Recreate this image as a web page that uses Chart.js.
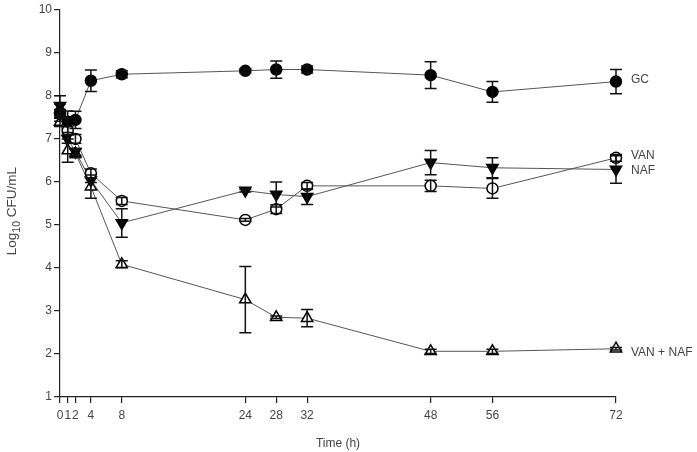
<!DOCTYPE html>
<html>
<head>
<meta charset="utf-8">
<script src="https://cdn.jsdelivr.net/npm/chart.js@4/dist/chart.umd.min.js"></script>
<style>
  html, body { margin: 0; padding: 0; background: #fff; }
  #wrap { width: 697px; height: 452px; }
</style>
</head>
<body>
<div id="wrap"><canvas id="killCurve"></canvas></div>
<script>
  // sampling times (h)
  var times = [0, 1, 2, 4, 8, 24, 28, 32, 48, 56, 72];
  var xTicks = [0, 1, 2, 4, 8, 24, 28, 32, 48, 56, 72];
  var yTicks = [1, 2, 3, 4, 5, 6, 7, 8, 9, 10];

  // log10 CFU/mL, mean and error
  var gc = [7.60, 7.39, 7.43, 8.34, 8.49, 8.57, 8.60, 8.60, 8.47, 8.08, 8.32];
  var gcErr = [0.20, 0.25, 0.20, 0.25, 0.08, 0.05, 0.20, 0.08, 0.31, 0.24, 0.28];
  var van = [7.57, 7.18, 6.99, 6.19, 5.55, 5.11, 5.36, 5.90, 5.90, 5.84, 6.55];
  var vanErr = [0.10, 0.10, 0.10, 0.10, 0.08, 0.03, 0.10, 0.08, 0.13, 0.23, 0.08];
  var naf = [7.76, 6.99, 6.69, 6.03, 5.04, 5.79, 5.70, 5.65, 6.44, 6.32, 6.28];
  var nafErr = [0.23, 0.10, 0.08, 0.05, 0.33, 0.03, 0.29, 0.18, 0.28, 0.23, 0.32];
  var combo = [7.38, 6.72, 6.65, 5.88, 4.08, 3.26, 2.85, 2.83, 2.06, 2.06, 2.12];
  var comboErr = [0.10, 0.27, 0.10, 0.27, 0.08, 0.77, 0.03, 0.20, 0.05, 0.05, 0.03];

  var seriesNames = ['GC', 'VAN', 'NAF', 'VAN + NAF'];

  var textColor = '#444';
  var fontFamily = '"Liberation Sans", Arial, sans-serif';

  function toPoints(vals) {
    return times.map(function (t, i) { return { x: t, y: vals[i] }; });
  }

  function makeSet(name, vals, errs, style, fill, rot, rad, labelDy) {
    return {
      label: name,
      data: toPoints(vals),
      errors: errs,
      labelDy: labelDy,
      borderColor: '#555',
      borderWidth: 1,
      pointStyle: style,
      pointRotation: rot,
      pointRadius: rad,
      pointBackgroundColor: fill,
      pointBorderColor: '#000',
      pointBorderWidth: 1.5,
      tension: 0,
      clip: false
    };
  }

  // error bars, drawn over the markers like the original
  var errorBars = {
    id: 'errorBars',
    afterDatasetsDraw: function (chart) {
      var ctx = chart.ctx;
      var xs = chart.scales.x, ys = chart.scales.y;
      ctx.save();
      ctx.strokeStyle = '#111';
      ctx.lineWidth = 1.5;
      chart.data.datasets.forEach(function (ds) {
        ds.data.forEach(function (p, i) {
          var e = ds.errors[i];
          var px = xs.getPixelForValue(p.x);
          var top = ys.getPixelForValue(p.y + e);
          var bot = ys.getPixelForValue(p.y - e);
          ctx.beginPath();
          ctx.moveTo(px, top); ctx.lineTo(px, bot);
          ctx.moveTo(px - 6, top); ctx.lineTo(px + 6, top);
          ctx.moveTo(px - 6, bot); ctx.lineTo(px + 6, bot);
          ctx.stroke();
        });
      });
      ctx.restore();
    }
  };

  // series names at the line ends + y title with subscript
  var annotations = {
    id: 'annotations',
    afterDraw: function (chart) {
      var ctx = chart.ctx;
      var xs = chart.scales.x, ys = chart.scales.y;
      ctx.save();
      ctx.fillStyle = textColor;
      ctx.font = '12px ' + fontFamily;
      ctx.textBaseline = 'middle';
      chart.data.datasets.forEach(function (ds) {
        var last = ds.data[ds.data.length - 1];
        ctx.fillText(ds.label, xs.getPixelForValue(last.x) + 15, ys.getPixelForValue(last.y) + ds.labelDy);
      });

      // Log10 CFU/mL
      ctx.translate(12, (chart.chartArea.top + chart.chartArea.bottom) / 2 + 8);
      ctx.rotate(-Math.PI / 2);
      ctx.textBaseline = 'alphabetic';
      var big = '13.5px ' + fontFamily, small = '10.5px ' + fontFamily;
      ctx.font = big;
      var w1 = ctx.measureText('Log').width;
      ctx.font = small;
      var w2 = ctx.measureText('10').width;
      ctx.font = big;
      var w3 = ctx.measureText(' CFU/mL').width;
      var x0 = -(w1 + w2 + w3) / 2;
      ctx.fillText('Log', x0, 4);
      ctx.font = small;
      ctx.fillText('10', x0 + w1, 8);
      ctx.font = big;
      ctx.fillText(' CFU/mL', x0 + w1 + w2, 4);
      ctx.restore();
    }
  };

  var tickFont = { family: fontFamily, size: 12 };

  new Chart(document.getElementById('killCurve'), {
    type: 'line',
    data: {
      datasets: [
        makeSet(seriesNames[0], gc, gcErr, 'circle', '#000', 0, 5.5, -2),
        makeSet(seriesNames[1], van, vanErr, 'circle', '#fff', 0, 5.5, -2),
        makeSet(seriesNames[2], naf, nafErr, 'triangle', '#000', 180, 6.5, 1),
        makeSet(seriesNames[3], combo, comboErr, 'triangle', '#fff', 0, 6.5, 4)
      ]
    },
    options: {
      responsive: true,
      maintainAspectRatio: false,
      animation: false,
      layout: { padding: { top: 7, right: 81, left: 0, bottom: 0 } },
      plugins: {
        legend: { display: false },
        tooltip: { enabled: false }
      },
      scales: {
        x: {
          type: 'linear',
          min: 0,
          max: 72,
          afterBuildTicks: function (axis) {
            axis.ticks = xTicks.map(function (v) { return { value: v }; });
          },
          afterFit: function (axis) { axis.height = 55; },
          grid: { display: true, drawOnChartArea: false, drawTicks: true, tickLength: 6, color: '#222', lineWidth: 1.2 },
          border: { display: true, color: '#222', width: 1.2 },
          ticks: { autoSkip: false, maxRotation: 0, minRotation: 0, padding: 5, color: textColor, font: tickFont },
          title: { display: true, text: 'Time (h)', color: textColor, font: tickFont, padding: { top: 0, bottom: 1 } }
        },
        y: {
          type: 'linear',
          min: 1,
          max: 10,
          afterBuildTicks: function (axis) {
            axis.ticks = yTicks.map(function (v) { return { value: v }; });
          },
          afterFit: function (axis) { axis.width = 60; },
          grid: { display: true, drawOnChartArea: false, drawTicks: true, tickLength: 6, color: '#222', lineWidth: 1.2 },
          border: { display: true, color: '#222', width: 1.2 },
          ticks: { padding: 2, color: textColor, font: tickFont }
        }
      }
    },
    plugins: [errorBars, annotations]
  });
</script>
</body>
</html>
